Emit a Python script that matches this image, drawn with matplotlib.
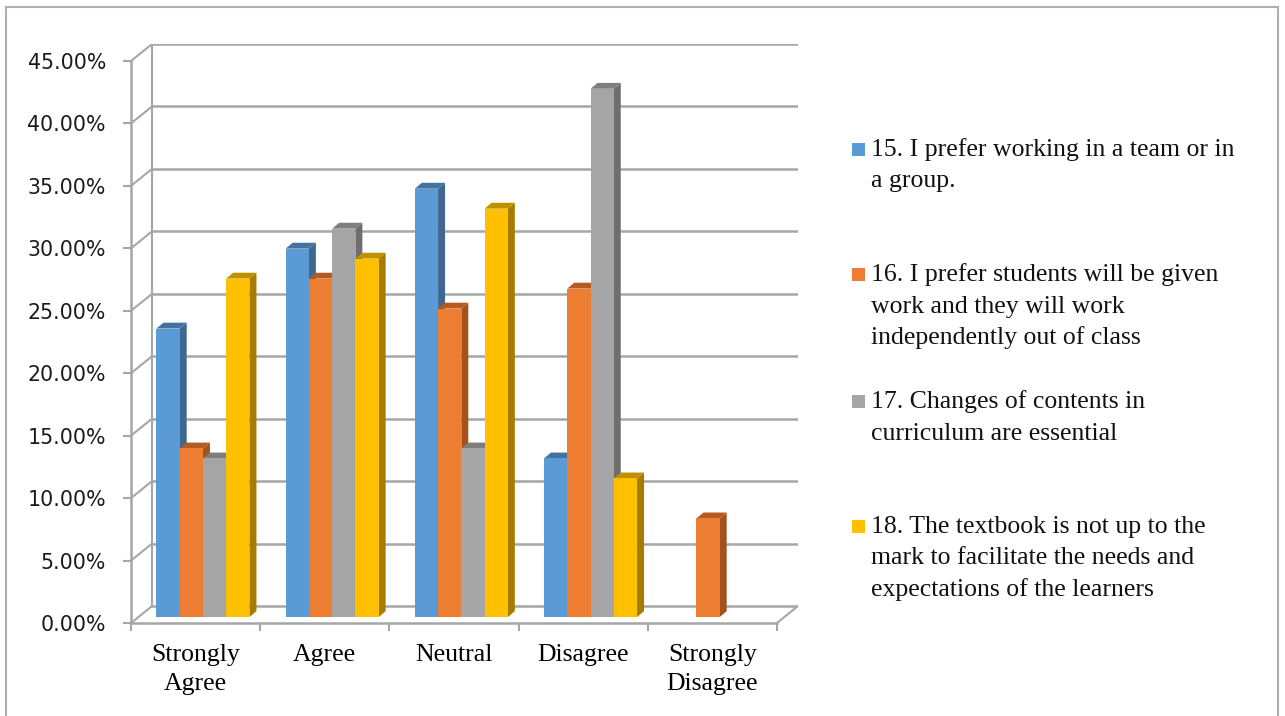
import numpy as np
import matplotlib.pyplot as plt
from matplotlib.patches import Polygon, Rectangle
from matplotlib.ticker import FuncFormatter

categories = ["Strongly\nAgree", "Agree", "Neutral", "Disagree", "Strongly\nDisagree"]
series_names = [
    "15. I prefer working in a team or in\na group.",
    "16. I prefer students will be given\nwork and they will work\nindependently out of class",
    "17. Changes of contents in\ncurriculum are essential",
    "18. The textbook is not up to the\nmark to facilitate the needs and\nexpectations of the learners",
]
q15 = [23.1, 29.5, 34.3, 12.7, 0.0]
q16 = [13.5, 27.1, 24.7, 26.3, 7.9]
q17 = [12.7, 31.1, 13.5, 42.3, 0.0]
q18 = [27.1, 28.7, 32.7, 11.1, 0.0]
values = [q15, q16, q17, q18]

front_cols = ["#5B9BD5", "#ED7D31", "#A5A5A5", "#FFC000"]
side_cols = ["#3E6891", "#A3521E", "#6E6E6E", "#A67C00"]
top_cols = ["#44729E", "#B55A20", "#7E7E7E", "#BF9000"]

grid_c = "#A6A6A6"
serif = "Liberation Serif"

# depth of the floor/back wall in data units
dx, dy = 0.163, 1.36
# bars sit part way into the depth
sx, sy = 0.35 * dx, 0.35 * dy
bdx, bdy = 0.054, 0.47
w = 0.18

fig = plt.figure(figsize=(12.85, 7.16), dpi=100)
ax = fig.add_axes([131 / 1285, 1 - 623 / 716, 667 / 1285, 579 / 716])
ax.set_xlim(-0.5, 4.5 + dx)
ax.set_ylim(0, 45 + dy)

for s in ["top", "right"]:
    ax.spines[s].set_visible(False)
for s in ["left", "bottom"]:
    ax.spines[s].set_color(grid_c)
    ax.spines[s].set_linewidth(1.8)
ax.spines["left"].set_bounds(0, 45)
ax.spines["bottom"].set_bounds(-0.5, 4.5)

yt = np.arange(0, 46, 5)
ax.set_yticks(yt)
ax.yaxis.set_major_formatter(FuncFormatter(lambda v, p: f"{v:.2f}%"))
ax.tick_params(axis="y", length=6, width=1.5, color=grid_c, pad=12,
               labelsize=14.8, labelcolor="#1a1a1a")

ax.set_xticks(np.arange(-0.5, 4.6, 1.0))
ax.set_xticklabels([])
ax.set_xticks(np.arange(5), minor=True)
ax.set_xticklabels(categories, minor=True, fontfamily=serif, fontsize=18.5,
                   linespacing=1.4)
ax.tick_params(axis="x", which="major", length=6, width=1.5, color=grid_c)
ax.tick_params(axis="x", which="minor", length=0, pad=15)

# back wall gridlines and side wall diagonals
for v in yt:
    ax.plot([-0.5 + dx, 4.5 + dx], [v + dy, v + dy], color=grid_c, lw=1.8, zorder=1)
    ax.plot([-0.5, -0.5 + dx], [v, v + dy], color=grid_c, lw=1.5, zorder=1)
ax.plot([-0.5 + dx, -0.5 + dx], [dy, 45 + dy], color=grid_c, lw=1.5, zorder=1)
ax.plot([4.5, 4.5 + dx], [0, dy], color=grid_c, lw=1.5, zorder=1)

# 3-D looking columns
for i in range(len(categories)):
    for j, vals in enumerate(values):
        v = vals[i]
        if v <= 0:
            continue
        x0 = i - 2 * w + j * w + sx
        x1 = x0 + w
        y0, y1 = sy, sy + v
        side = Polygon([(x1, y0), (x1 + bdx, y0 + bdy), (x1 + bdx, y1 + bdy), (x1, y1)],
                       closed=True, facecolor=side_cols[j], edgecolor="none", zorder=3)
        top = Polygon([(x0, y1), (x0 + bdx, y1 + bdy), (x1 + bdx, y1 + bdy), (x1, y1)],
                      closed=True, facecolor=top_cols[j], edgecolor="none", zorder=3)
        front = Rectangle((x0, y0), w, v, facecolor=front_cols[j],
                          edgecolor="none", zorder=4)
        ax.add_patch(side)
        ax.add_patch(top)
        ax.add_patch(front)

# legend, one line of text at a time
leg_y = [150, 275, 402, 527]
line_gap = 31.5
for j, name in enumerate(series_names):
    yy = 1 - leg_y[j] / 716
    fig.patches.append(Rectangle((852 / 1285, yy - 6 / 716), 13 / 1285, 13 / 716,
                                 transform=fig.transFigure, facecolor=front_cols[j],
                                 edgecolor="none"))
    for k, line in enumerate(name.split("\n")):
        fig.text(871 / 1285, 1 - (leg_y[j] + k * line_gap) / 716, line,
                 ha="left", va="center", fontfamily=serif, fontsize=18.5,
                 color="#111111")

# outer frame
frame_c = "#B0B0B0"
fig.add_artist(plt.Line2D([6 / 1285, 6 / 1285], [0, 1 - 7 / 716], color=frame_c, lw=1.5))
fig.add_artist(plt.Line2D([6 / 1285, 1278 / 1285], [1 - 7 / 716, 1 - 7 / 716], color=frame_c, lw=1.5))
fig.add_artist(plt.Line2D([1278 / 1285, 1278 / 1285], [0, 1 - 7 / 716], color=frame_c, lw=1.5))

fig.savefig("out.png", dpi=100)
